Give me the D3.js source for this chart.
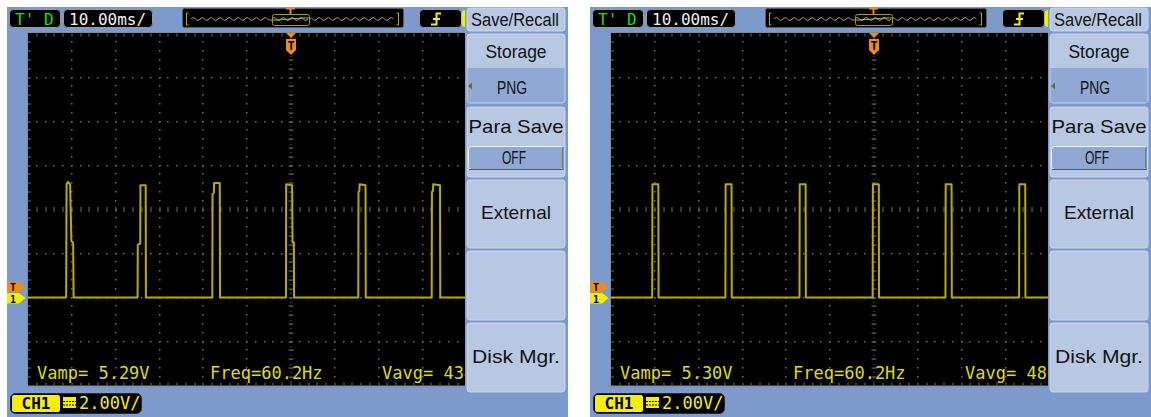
<!DOCTYPE html>
<html>
<head>
<meta charset="utf-8">
<script src="https://cdn.jsdelivr.net/npm/d3@7"></script>
<style>
  body { margin: 0; background: #ffffff; }
  svg { display: block; }
</style>
</head>
<body>
<svg id="chart" width="1151" height="417"></svg>
<script>
// ---- captured data -------------------------------------------------------
// Trace breakpoints: time in ms (0 = trigger point), level in volts.
const timeA = [-60, -51.3, -51.2, -50.9, -50.4, -50.1, -49.7, -49.6,
  -35.0, -34.95, -34.4, -34.35, -33.15, -33.1,
  -17.95, -17.9, -17.6, -17.55, -16.25, -16.2,
  -1.15, -1.1, 0.25, 0.35, 0.65, 0.7,
  15.35, 15.4, 15.6, 15.65, 17.0, 17.05,
  32.1, 32.15, 32.4, 32.45, 34.0, 34.05,
  48.7, 48.75, 50.2, 50.25, 60];
const voltA = [0, 0, 5.15, 5.25, 5.15, 2.55, 2.5, 0,
  0, 2.4, 2.45, 5.1, 5.1, 0,
  0, 4.7, 4.75, 5.2, 5.2, 0,
  0, 5.15, 5.1, 2.5, 2.5, 0,
  0, 4.8, 4.85, 5.15, 5.1, 0,
  0, 4.8, 4.85, 5.15, 5.1, 0,
  0, 5.1, 5.1, 0, 0];

const timeB = [-60, -50.6, -50.55, -49.2, -49.15,
  -33.9, -33.85, -32.5, -32.45,
  -17.0, -16.95, -15.6, -15.55,
  -0.3, -0.25, 1.1, 1.15,
  16.3, 16.35, 17.7, 17.75,
  33.1, 33.15, 34.5, 34.55,
  49.8, 49.85, 51.2, 51.25, 60];
const voltB = [0, 0, 5.15, 5.15, 0,
  0, 5.15, 5.15, 0,
  0, 5.15, 5.15, 0,
  0, 5.15, 5.15, 0,
  0, 5.15, 5.15, 0,
  0, 5.15, 5.15, 0,
  0, 5.15, 5.15, 0, 0];

// Horizontal divisions (10 ms/div) and vertical divisions (2 V/div).
const timeDivs = [-60, -50, -40, -30, -20, -10, 0, 10, 20, 30, 40, 50, 60];
const voltDivs = [-4, -2, 0, 2, 4, 6, 8, 10, 12];
const triggerLevel = 0.45;

const readoutsA = ["Vamp= 5.29V", "Freq=60.2Hz", "Vavg= 434mV"];
const readoutsB = ["Vamp= 5.30V", "Freq=60.2Hz", "Vavg= 481mV"];

const timebaseLabel = "10.00ms/";
const runLabel = "T' D";
const channelLabel = "CH1";
const channelScaleLabel = "2.00V/";
const menuTitle = "Save/Recall";
const menuButtons = ["Storage", "Para Save", "External", "", "Disk Mgr."];
const menuValues = ["PNG", "OFF"];

// ---- drawing -------------------------------------------------------------
const svg = d3.select("#chart");
const MONO = "'DejaVu Sans Mono', monospace";
const SANS = "'Liberation Sans', Arial, sans-serif";

const COL = {
  panel: "#7c9bcc",
  button: "#b8c8e3",
  buttonDark: "#8fa9d4",
  trace: "#b8ac00",
  text: "#dede00",
  yellow: "#f4f000",
  orange: "#f08c1a",
  grid: "#6e6e6e"
};

// Screen geometry shared by both captures (local panel coordinates).
const x = d3.scaleLinear().domain([-60, 60]).range([28, 554]);
const y = d3.scaleLinear().domain([-4, 12]).range([385.5, 33.5]);
const minorX = (x(10) - x(0)) / 5;
const minorY = (y(0) - y(2)) / 5;

function drawPanel(ox, times, volts, readouts, id) {
  const g = svg.append("g").attr("transform", `translate(${ox},0)`);

  // panel background
  g.append("rect").attr("x", 7).attr("y", 7).attr("width", 561).attr("height", 410)
    .attr("fill", COL.panel);

  // ---- top status bar ----
  g.append("rect").attr("x", 9.5).attr("y", 9.5).attr("width", 51).attr("height", 18)
    .attr("rx", 4).attr("fill", "#000").attr("stroke", "#9a9a9a");
  g.append("text").attr("x", 15).attr("y", 25).attr("font-family", MONO)
    .attr("font-size", 16).attr("fill", "#18e018").attr("xml:space", "preserve")
    .text(runLabel);

  g.append("rect").attr("x", 63.5).attr("y", 9.5).attr("width", 89).attr("height", 18)
    .attr("rx", 4).attr("fill", "#000").attr("stroke", "#9a9a9a");
  g.append("text").attr("x", 69).attr("y", 25).attr("font-family", MONO)
    .attr("font-size", 16).attr("fill", "#f0f0f0").text(timebaseLabel);

  // memory overview strip
  g.append("rect").attr("x", 182.5).attr("y", 8.5).attr("width", 221).attr("height", 19)
    .attr("rx", 2).attr("fill", "#000").attr("stroke", "#5a5a5a");
  const wave = [];
  for (let px = 191; px <= 394; px += 2.25) {
    const k = Math.round((px - 191) / 2.25) % 4;
    wave.push([px, 19 + [0, -2, 0, 2][k]]);
  }
  const waveLine = d3.line().curve(d3.curveBasis);
  g.append("path").attr("d", waveLine(wave.filter(p => p[0] < 272 || p[0] > 309)))
    .attr("fill", "none").attr("stroke", "#a8a8a8").attr("stroke-width", 1);
  g.append("path").attr("d", waveLine(wave.filter(p => p[0] >= 272 && p[0] <= 309)))
    .attr("fill", "none").attr("stroke", "#d8d000").attr("stroke-width", 1);
  g.append("rect").attr("x", 272.5).attr("y", 14.5).attr("width", 37).attr("height", 11)
    .attr("rx", 2).attr("fill", "none").attr("stroke", "#a89c00");
  g.append("path").attr("d", "M188.5,13 H186.5 V25 H188.5 M396.5,13 H398.5 V25 H396.5")
    .attr("fill", "none").attr("stroke", "#b8ac00").attr("stroke-width", 1);
  g.append("path").attr("d", "M286,8.5 H295 M290.5,8.5 V14")
    .attr("stroke", COL.orange).attr("stroke-width", 2);

  // trigger edge box
  g.append("rect").attr("x", 419.5).attr("y", 9.5).attr("width", 42).attr("height", 18)
    .attr("rx", 4).attr("fill", "#000").attr("stroke", "#9a9a9a");
  g.append("path").attr("d", "M431,24.5 H436.5 V13.5 H441 M433,19 H440")
    .attr("fill", "none").attr("stroke", COL.yellow).attr("stroke-width", 2);
  g.append("rect").attr("x", 461.5).attr("y", 10).attr("width", 20).attr("height", 17)
    .attr("rx", 4).attr("fill", COL.yellow);

  // ---- graticule ----
  g.append("rect").attr("x", 27.5).attr("y", 32.5).attr("width", 527).attr("height", 353.5)
    .attr("fill", "#000").attr("stroke", "#8a8a8a");

  const grid = g.append("g");
  timeDivs.slice(1, -1).forEach(t => {
    if (t === 0) return;
    d3.range(1, 40).forEach(j => {
      grid.append("rect").attr("x", Math.round(x(t)) - 1).attr("y", Math.round(y(12) + j * minorY) - 1)
        .attr("width", 1.5).attr("height", 1.5).attr("fill", COL.grid);
    });
  });
  voltDivs.slice(1, -1).forEach(v => {
    if (v === 4) return;
    d3.range(1, 60).forEach(j => {
      grid.append("rect").attr("x", Math.round(x(-60) + j * minorX) - 1).attr("y", Math.round(y(v)) - 1)
        .attr("width", 1.5).attr("height", 1.5).attr("fill", COL.grid);
    });
  });
  // centre axes with minor ticks
  d3.range(1, 60).forEach(j => {
    const px = Math.round(x(-60) + j * minorX);
    grid.append("line").attr("x1", px).attr("x2", px).attr("y1", y(4) - 2.5).attr("y2", y(4) + 2.5)
      .attr("stroke", COL.grid).attr("stroke-width", 1);
    grid.append("line").attr("x1", px).attr("x2", px).attr("y1", y(12)).attr("y2", y(12) + 3)
      .attr("stroke", COL.grid).attr("stroke-width", 1);
    grid.append("line").attr("x1", px).attr("x2", px).attr("y1", y(-4) - 3).attr("y2", y(-4))
      .attr("stroke", COL.grid).attr("stroke-width", 1);
  });
  d3.range(1, 40).forEach(j => {
    const py = Math.round(y(12) + j * minorY);
    grid.append("line").attr("x1", x(0) - 2.5).attr("x2", x(0) + 2.5).attr("y1", py).attr("y2", py)
      .attr("stroke", COL.grid).attr("stroke-width", 1);
    grid.append("line").attr("x1", x(-60)).attr("x2", x(-60) + 3).attr("y1", py).attr("y2", py)
      .attr("stroke", COL.grid).attr("stroke-width", 1);
  });
  d3.range(1, 80).forEach(j => {
    const py = Math.round(y(12) + j * minorY / 2);
    grid.append("rect").attr("x", x(0) - 0.5).attr("y", py).attr("width", 1).attr("height", 1)
      .attr("fill", COL.grid);
  });

  // ---- trace ----
  const clipId = "clip" + id;
  g.append("clipPath").attr("id", clipId).append("rect")
    .attr("x", 27).attr("y", 32).attr("width", 528).attr("height", 354);
  const pts = times.map((t, i) => [t, volts[i]]);
  const line = d3.line().x(d => x(d[0])).y(d => y(d[1]));
  g.append("path").attr("clip-path", `url(#${clipId})`).attr("d", line(pts))
    .attr("fill", "none").attr("stroke", COL.trace).attr("stroke-width", 2)
    .attr("stroke-linejoin", "round");

  // ---- markers ----
  const cx = x(0);
  g.append("path").attr("d", `M${cx - 5},33 H${cx + 5} L${cx},38 Z`).attr("fill", COL.orange);
  g.append("path").attr("d", `M${cx - 5},39 H${cx + 5} V50 L${cx},55 L${cx - 5},50 Z`)
    .attr("fill", COL.orange);
  g.append("text").attr("x", cx).attr("y", 50).attr("text-anchor", "middle")
    .attr("font-family", MONO).attr("font-weight", "bold").attr("font-size", 12)
    .attr("fill", "#000").text("T");

  const ty = y(triggerLevel);
  g.append("path").attr("d", `M7,${ty - 5.5} H19 L24.5,${ty} L19,${ty + 4.5} H7 Z`).attr("fill", COL.orange);
  g.append("text").attr("x", 13).attr("y", ty + 3.5).attr("text-anchor", "middle")
    .attr("font-family", MONO).attr("font-weight", "bold").attr("font-size", 10)
    .attr("fill", "#000").text("T");
  const gy = y(0);
  g.append("path").attr("d", `M7,${gy - 4.5} H19 L25.5,${gy + 0.5} L19,${gy + 6} H7 Z`).attr("fill", COL.yellow);
  g.append("text").attr("x", 13).attr("y", gy + 5).attr("text-anchor", "middle")
    .attr("font-family", MONO).attr("font-weight", "bold").attr("font-size", 10)
    .attr("fill", "#000").text("1");

  // ---- measurement readouts ----
  [37, 210, 382].forEach((px, i) => {
    g.append("text").attr("x", px).attr("y", 379).attr("font-family", MONO)
      .attr("font-size", 17).attr("fill", COL.text).attr("xml:space", "preserve")
      .text(readouts[i]);
  });

  // ---- softkey menu ----
  g.append("rect").attr("x", 465).attr("y", 7).attr("width", 103).attr("height", 410)
    .attr("fill", COL.panel);
  const btn = (y0, h, fill) => g.append("rect").attr("x", 467).attr("y", y0)
    .attr("width", 98).attr("height", h).attr("rx", 3).attr("fill", fill)
    .attr("stroke", "#d4e0f0").attr("stroke-width", 0.8);
  const label = (txt, yb, len, cxp = 516, size = 19) => g.append("text").attr("x", cxp).attr("y", yb)
    .attr("text-anchor", "middle").attr("font-family", SANS).attr("font-size", size)
    .attr("fill", "#111").attr("textLength", len).attr("lengthAdjust", "spacingAndGlyphs")
    .text(txt);

  btn(8, 23, COL.button);
  label(menuTitle, 25.5, 88, 515, 18);

  btn(34, 69, COL.button);
  g.append("rect").attr("x", 467.5).attr("y", 68).attr("width", 97).attr("height", 34.5)
    .attr("fill", COL.buttonDark);
  label(menuButtons[0], 57.5, 61);
  g.append("path").attr("d", "M468,86 L472,82.5 V89.5 Z").attr("fill", "#6f6a2a");
  label(menuValues[0], 94, 30, 512);

  btn(107, 70, COL.button);
  label(menuButtons[1], 133, 95);
  g.append("rect").attr("x", 468.5).attr("y", 146.5).attr("width", 95).attr("height", 23)
    .attr("rx", 3).attr("fill", COL.buttonDark).attr("stroke", "#f2f6fb").attr("stroke-width", 1);
  g.append("path").attr("d", "M469,169.5 H563 V147").attr("fill", "none")
    .attr("stroke", "#4a5a70").attr("stroke-width", 1.2);
  label(menuValues[1], 164, 24, 514);

  btn(180, 68, COL.button);
  label(menuButtons[2], 218.5, 70);

  btn(251, 69, COL.button);

  btn(323, 69, COL.button);
  label(menuButtons[4], 363, 88);

  // ---- channel status ----
  g.append("rect").attr("x", 10.5).attr("y", 393.5).attr("width", 131).attr("height", 20)
    .attr("rx", 5).attr("fill", "#000").attr("stroke", "#2a2a2a");
  g.append("rect").attr("x", 12).attr("y", 395).attr("width", 48).attr("height", 17)
    .attr("rx", 2).attr("fill", COL.yellow);
  g.append("text").attr("x", 36).attr("y", 409).attr("text-anchor", "middle")
    .attr("font-family", MONO).attr("font-weight", "bold").attr("font-size", 16)
    .attr("fill", "#000").text(channelLabel);
  g.append("rect").attr("x", 63).attr("y", 397).attr("width", 13).attr("height", 11)
    .attr("fill", COL.yellow);
  g.append("path").attr("d", "M63,401.5 H76 M63,405 H76").attr("stroke", "#000")
    .attr("stroke-width", 1).attr("stroke-dasharray", "2,1");
  g.append("text").attr("x", 79).attr("y", 409).attr("font-family", MONO)
    .attr("font-size", 17).attr("fill", COL.yellow).text(channelScaleLabel);
}

drawPanel(0, timeA, voltA, readoutsA, "A");
drawPanel(583, timeB, voltB, readoutsB, "B");
</script>
</body>
</html>
